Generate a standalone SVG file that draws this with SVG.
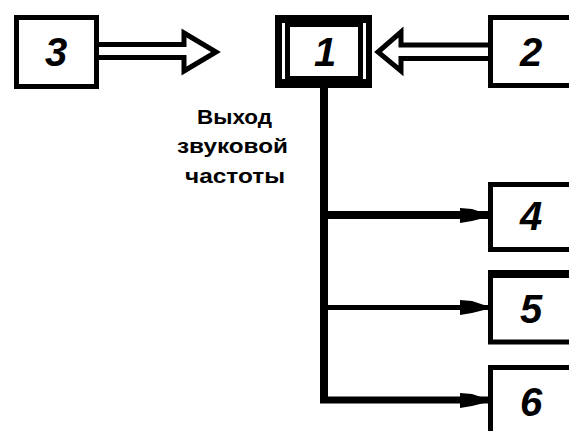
<svg xmlns="http://www.w3.org/2000/svg" width="569" height="431" viewBox="0 0 569 431">
  <style>
    .box { fill: #fff; stroke: #000; stroke-width: 5; }
    .num { font-family: "Liberation Sans", Arial, sans-serif; font-weight: bold; font-style: italic; font-size: 40px; text-anchor: middle; fill: #000; }
    .lbl { font-family: "Liberation Sans", Arial, sans-serif; font-weight: bold; font-size: 20px; fill: #000; }
    .hollow { fill: #fff; stroke: #000; stroke-width: 5; stroke-linejoin: miter; }
    .line { stroke: #000; fill: none; }
  </style>
  <rect width="569" height="431" fill="#fff"/>
  <g id="connectors">
    <path class="hollow" d="M98,44.5 H184 V33 L216,52 L184,71 V57.5 H98"/>
    <path class="hollow" d="M488,45 H401 V32 L378,52 L401,71 V58.5 H488"/>
    <line class="line" x1="324" y1="86" x2="324" y2="403" stroke-width="8"/>
    <line class="line" x1="320" y1="215" x2="488" y2="215" stroke-width="8"/>
    <polygon points="460,208 472,209 484,213 484,218 472,221 460,223"/>
    <line class="line" x1="324" y1="307.5" x2="488" y2="307.5" stroke-width="5"/>
    <polygon points="460,300 472,301 484,305 484,310 472,313 460,315"/>
    <line class="line" x1="320" y1="400" x2="488" y2="400" stroke-width="7"/>
    <polygon points="460,393 472,394 484,398 484,403 472,406 460,408"/>
  </g>
  <g id="node3">
    <rect class="box" x="16.5" y="17.5" width="80" height="69"/>
    <text class="num" x="56" y="66">3</text>
  </g>
  <g id="node1">
    <rect x="275" y="15" width="97" height="73" fill="#000"/>
    <rect x="290" y="27" width="68" height="49" fill="#fff"/>
    <rect x="282" y="23" width="3" height="56" fill="#fff"/>
    <rect x="363" y="23" width="3" height="56" fill="#fff"/>
    <text class="num" x="325" y="66">1</text>
  </g>
  <g id="node2">
    <rect class="box" x="490.5" y="17.5" width="90" height="68"/>
    <text class="num" x="531" y="66">2</text>
  </g>
  <g id="node4">
    <rect class="box" x="490.5" y="184.5" width="90" height="65"/>
    <text class="num" x="531" y="230">4</text>
  </g>
  <g id="node5">
    <rect class="box" x="490.5" y="274" width="90" height="68"/>
    <rect x="488" y="270" width="90" height="8" fill="#000"/>
    <text class="num" x="531" y="323">5</text>
  </g>
  <g id="node6">
    <rect class="box" x="490.5" y="367.5" width="90" height="80"/>
    <text class="num" x="531" y="416">6</text>
  </g>
  <g id="label">
    <text class="lbl" x="197" y="124" textLength="75" lengthAdjust="spacingAndGlyphs">Выход</text>
    <text class="lbl" x="177" y="153" textLength="111" lengthAdjust="spacingAndGlyphs">звуковой</text>
    <text class="lbl" x="185" y="183" textLength="100" lengthAdjust="spacingAndGlyphs">частоты</text>
  </g>
</svg>
